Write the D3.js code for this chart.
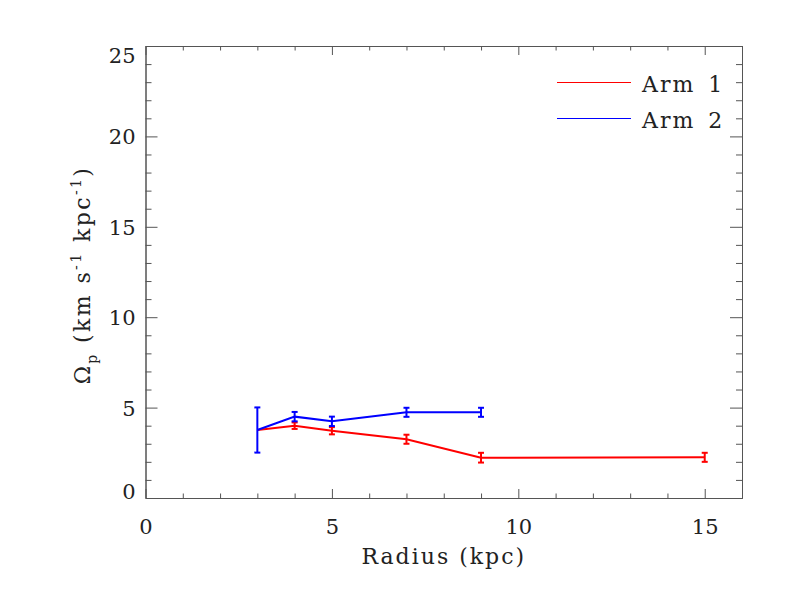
<html>
<head>
<script src="https://d3js.org/d3.v7.min.js"></script>
<style>
  body { margin: 0; background: #fff; }
  text { font-family: "DejaVu Serif", serif; fill: #222; }
  .domain, .tick line { stroke: #555; stroke-width: 1; }
</style>
</head>
<body>
<svg id="chart" width="786" height="591"></svg>
<script>
// data
var radius1 = [3, 4, 5, 7, 9, 15];
var omega1  = [3.76, 4.0, 3.72, 3.25, 2.23, 2.25];
var err1    = [0, 0.18, 0.2, 0.25, 0.27, 0.25];

var radius2 = [3, 4, 5, 7, 9];
var omega2  = [3.76, 4.5, 4.24, 4.74, 4.74];
var err2    = [1.25, 0.26, 0.26, 0.25, 0.25];

var seriesNames  = ['Arm 1', 'Arm 2'];
var seriesColors = ['#ff0000', '#0000ff'];

var xTicks = [0, 5, 10, 15];
var yTicks = [0, 5, 10, 15, 20, 25];
var xMinor = [1, 2, 3, 4, 6, 7, 8, 9, 11, 12, 13, 14, 16];
var yMinor = [1, 2, 3, 4, 6, 7, 8, 9, 11, 12, 13, 14, 16, 17, 18, 19, 21, 22, 23, 24];

var svg = d3.select('#chart');

var x = d3.scaleLinear().domain([0, 16]).range([145.5, 742]);
var y = d3.scaleLinear().domain([0, 25]).range([498, 46]);

// bottom axis
var gx = svg.append('g').attr('transform', 'translate(0,' + y(0) + ')')
  .call(d3.axisBottom(x).tickValues(xTicks).tickSize(-9).tickSizeOuter(0));
gx.selectAll('text').attr('y', 36).attr('dy', 0).style('font-size', '21px');
svg.append('g').attr('transform', 'translate(0,' + y(0) + ')')
  .call(d3.axisBottom(x).tickValues(xMinor).tickSize(-4.5).tickSizeOuter(0).tickFormat(''));

// top axis
svg.append('g').attr('transform', 'translate(0,' + y(25) + ')')
  .call(d3.axisTop(x).tickValues(xTicks).tickSize(-9).tickSizeOuter(0).tickFormat(''));
svg.append('g').attr('transform', 'translate(0,' + y(25) + ')')
  .call(d3.axisTop(x).tickValues(xMinor).tickSize(-4.5).tickSizeOuter(0).tickFormat(''));

// left axis
var gy = svg.append('g').attr('transform', 'translate(' + x(0) + ',0)')
  .call(d3.axisLeft(y).tickValues(yTicks).tickSize(-12).tickSizeOuter(0).tickPadding(10));
gy.selectAll('text').style('font-size', '21px').attr('dy', '0.36em')
  .attr('y', function(d) { return d === 0 ? -7 : (d === 25 ? 9 : 0); });
svg.append('g').attr('transform', 'translate(' + x(0) + ',0)')
  .call(d3.axisLeft(y).tickValues(yMinor).tickSize(-6).tickSizeOuter(0).tickFormat(''));

// right axis
svg.append('g').attr('transform', 'translate(' + x(16) + ',0)')
  .call(d3.axisRight(y).tickValues(yTicks).tickSize(-12).tickSizeOuter(0).tickFormat(''));
svg.append('g').attr('transform', 'translate(' + x(16) + ',0)')
  .call(d3.axisRight(y).tickValues(yMinor).tickSize(-6).tickSizeOuter(0).tickFormat(''));

// axis titles
svg.append('text')
  .attr('x', (x(0) + x(16)) / 2).attr('y', 564)
  .attr('text-anchor', 'middle')
  .style('font-size', '22px').style('letter-spacing', '2px')
  .text('Radius (kpc)');

var yt = svg.append('text')
  .attr('transform', 'translate(90,275) rotate(-90)')
  .attr('text-anchor', 'middle')
  .style('font-size', '22px').style('letter-spacing', '2.4px');
yt.append('tspan').text('\u03A9');
yt.append('tspan').attr('dy', 7).style('font-size', '14px').text('p');
yt.append('tspan').attr('dy', -7).text(' (km s');
yt.append('tspan').attr('dy', -9).style('font-size', '14px').text('-1');
yt.append('tspan').attr('dy', 9).text(' kpc');
yt.append('tspan').attr('dy', -9).style('font-size', '14px').text('-1');
yt.append('tspan').attr('dy', 9).text(')');

// series
var series = [
  { r: radius1, v: omega1, e: err1 },
  { r: radius2, v: omega2, e: err2 }
];

var line = d3.line().x(function(d) { return x(d[0]); }).y(function(d) { return y(d[1]); });

series.forEach(function(s, i) {
  var pts = s.r.map(function(r, j) { return [r, s.v[j], s.e[j]]; });
  var g = svg.append('g');
  g.append('path').datum(pts).attr('d', line)
    .attr('fill', 'none').attr('stroke', seriesColors[i]).attr('stroke-width', 2);
  var eb = g.selectAll('.err').data(pts.filter(function(d) { return d[2] > 0; })).enter().append('g');
  eb.append('line')
    .attr('x1', function(d) { return x(d[0]); }).attr('x2', function(d) { return x(d[0]); })
    .attr('y1', function(d) { return y(d[1] - d[2]); }).attr('y2', function(d) { return y(d[1] + d[2]); })
    .attr('stroke', seriesColors[i]).attr('stroke-width', 2);
  [-1, 1].forEach(function(sgn) {
    eb.append('line')
      .attr('x1', function(d) { return x(d[0]) - 3; }).attr('x2', function(d) { return x(d[0]) + 3; })
      .attr('y1', function(d) { return y(d[1] + sgn * d[2]); }).attr('y2', function(d) { return y(d[1] + sgn * d[2]); })
      .attr('stroke', seriesColors[i]).attr('stroke-width', 2);
  });
});

// legend
var leg = svg.append('g');
seriesNames.forEach(function(name, i) {
  var ly = 82.5 + i * 36;
  leg.append('line').attr('x1', 557).attr('x2', 631).attr('y1', ly).attr('y2', ly)
    .attr('stroke', seriesColors[i]).attr('stroke-width', 1);
  leg.append('text').attr('x', 642).attr('y', ly + 9.5)
    .style('font-size', '22px').style('letter-spacing', '2px').style('word-spacing', '4px').text(name);
});
</script>
</body>
</html>
